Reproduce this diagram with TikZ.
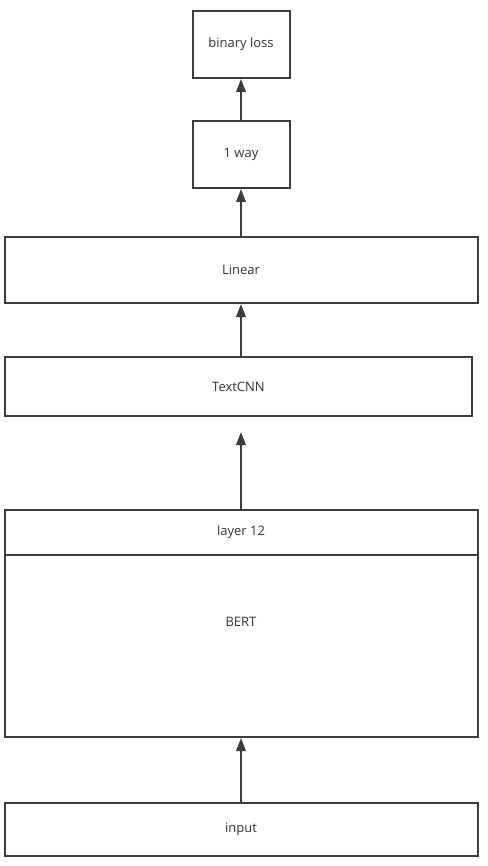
\documentclass[tikz,border=0pt]{standalone}
\usepackage{fontspec}
\setmainfont{Open Sans}
\usetikzlibrary{arrows.meta}
\definecolor{linegray}{HTML}{3C3C3C}
\definecolor{textgray}{HTML}{333333}

\begin{document}
\begin{tikzpicture}[x=1pt, y=-1pt, >={Triangle[length=13pt,width=9.5pt]},
    box/.style={draw=linegray, line width=2pt, fill=white, inner sep=0pt,
        text=textgray, font=\fontsize{13}{15}\selectfont}]
    \useasboundingbox (0,0) rectangle (487,866);

    % heads
    \node[box, minimum width=97, minimum height=67] (loss) at (241,44.5) {binary loss};
    \node[box, minimum width=97, minimum height=67] (oneway) at (241,154.5) {1 way};
    \node[box, minimum width=473, minimum height=66] (linear) at (241,270) {Linear};
    \node[box, minimum width=467, minimum height=59] (textcnn) at (238.5,386.5) {TextCNN};

    % encoder
    \node[box, minimum width=473, minimum height=182,
        label={[text=textgray, font=\fontsize{13}{15}\selectfont, yshift=24pt]center:BERT}] (bert) at (241,646) {};
    \node[box, minimum width=473, minimum height=45] (layer) at (241,532.5) {layer 12};
    \node[box, minimum width=473, minimum height=53] (input) at (241,829.5) {input};
    \coordinate (tip) at (241,432);

    \draw[->, draw=linegray, fill=linegray, line width=2pt] (oneway.north) -- (loss.south);
    \draw[->, draw=linegray, fill=linegray, line width=2pt] (linear.north) -- (oneway.south);
    \draw[->, draw=linegray, fill=linegray, line width=2pt] (linear.south |- textcnn.north) -- (linear.south);
    \draw[->, draw=linegray, fill=linegray, line width=2pt] (layer.north) -- (tip);
    \draw[->, draw=linegray, fill=linegray, line width=2pt] (input.north) -- (bert.south);
\end{tikzpicture}
\end{document}
